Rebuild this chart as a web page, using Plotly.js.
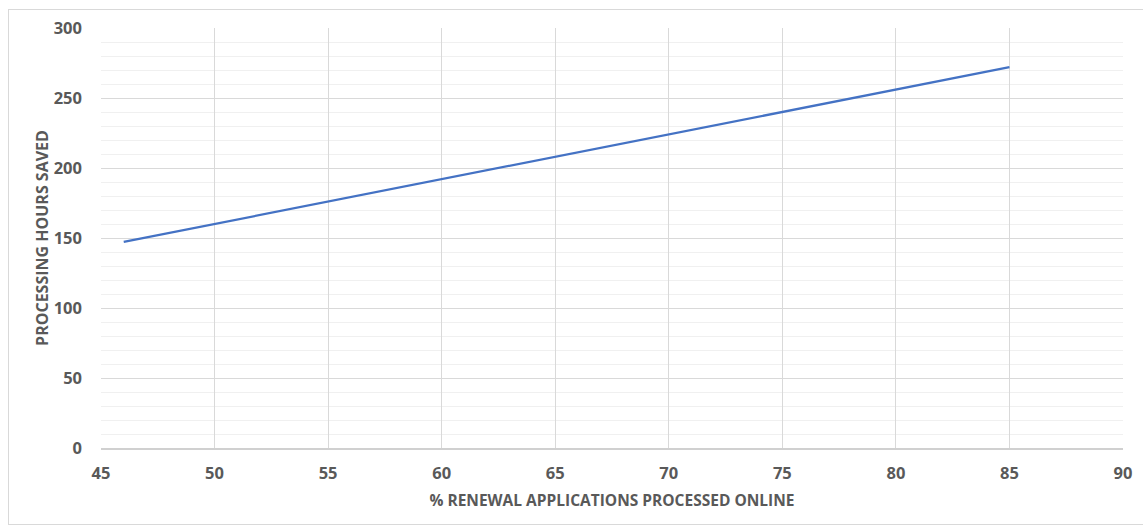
<!DOCTYPE html>
<html>
<head>
<meta charset="utf-8">
<script src="https://cdn.plot.ly/plotly-3.0.1.min.js"></script>
<style>
html,body{margin:0;padding:0;background:#fff;}
#wrap{position:relative;width:1143px;height:527px;}
#chart{width:1143px;height:527px;}
#frame{position:absolute;left:8px;top:9px;width:1135px;height:516px;border:1px solid #d9d9d9;border-right:none;box-sizing:border-box;pointer-events:none;}
</style>
</head>
<body>
<div id="wrap"><div id="chart"></div><div id="frame"></div></div>
<script>
const pctOnline = [46, 50, 55, 60, 65, 70, 75, 80, 85];
const hoursSaved = [147.2, 160, 176, 192, 208, 224, 240, 256, 272];
const xTitle = '% RENEWAL APPLICATIONS PROCESSED ONLINE';
const yTitle = 'PROCESSING HOURS SAVED';

const fontFam = '"Open Sans", "Liberation Sans", Arial, sans-serif';
const trace = {
  x: pctOnline, y: hoursSaved, type: 'scatter', mode: 'lines',
  line: {color: '#4472c4', width: 2.25}, hoverinfo: 'x+y'
};
const layout = {
  width: 1143, height: 527,
  margin: {l: 101, r: 20, t: 28, b: 79},
  paper_bgcolor: '#ffffff', plot_bgcolor: '#ffffff',
  showlegend: false,
  font: {family: fontFam, color: '#595959'},
  xaxis: {
    range: [45, 90], dtick: 5, tick0: 45,
    showgrid: true, gridcolor: '#d9d9d9', gridwidth: 1,
    zeroline: false, showline: true, linecolor: '#d0d0d0', linewidth: 1.5, mirror: false,
    ticks: '', ticklabelstandoff: 10,
    tickfont: {size: 16.5, color: '#595959', family: fontFam, weight: 'bold'},
    title: {text: xTitle, font: {size: 15.5, color: '#595959', family: fontFam, weight: 'bold'}, standoff: 12}
  },
  yaxis: {
    range: [0, 300], dtick: 50, tick0: 0,
    showgrid: true, gridcolor: '#d9d9d9', gridwidth: 1,
    minor: {dtick: 10, showgrid: true, gridcolor: '#f0f0f0', gridwidth: 1},
    zeroline: false, showline: false,
    ticks: '', ticklabelstandoff: 18,
    tickfont: {size: 16.5, color: '#595959', family: fontFam, weight: 'bold'},
    title: {text: yTitle, font: {size: 16, color: '#595959', family: fontFam, weight: 'bold'}, standoff: 1}
  }
};
Plotly.newPlot('chart', [trace], layout, {displayModeBar: false, staticPlot: true});
</script>
</body>
</html>
